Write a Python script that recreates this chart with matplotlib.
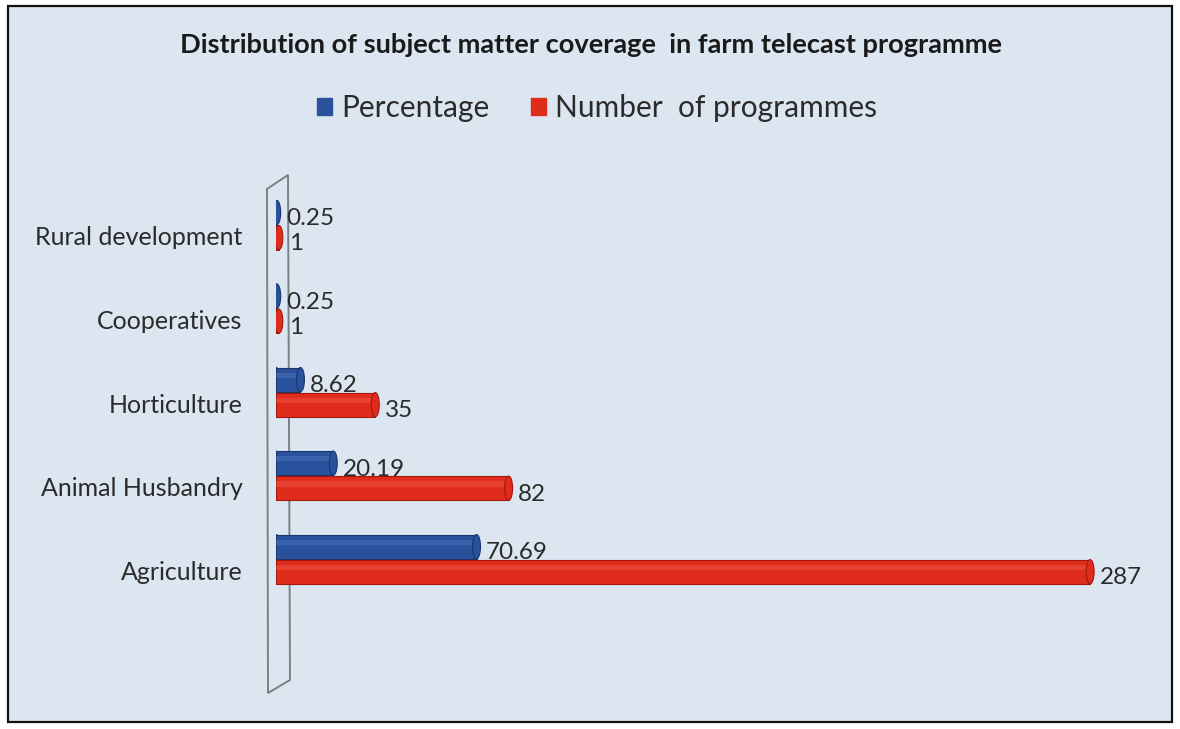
"""Distribution of subject matter coverage in farm telecast programme."""
import matplotlib.pyplot as plt
from matplotlib.patches import Rectangle, Ellipse, Polygon
import numpy as np

categories = ["Agriculture", "Animal Husbandry", "Horticulture",
              "Cooperatives", "Rural development"]
percentage = [70.69, 20.19, 8.62, 0.25, 0.25]
programmes = [287, 82, 35, 1, 1]
pct_labels = ["70.69", "20.19", "8.62", "0.25", "0.25"]
num_labels = ["287", "82", "35", "1", "1"]

BLUE = "#2a529c"
BLUE_DARK = "#1a3570"
BLUE_LIGHT = "#4f78bf"
RED = "#e02c1c"
RED_DARK = "#a3170f"
RED_LIGHT = "#f0584a"
BG = "#dce6f1"
TXT = "#2b2b2b"

plt.rcParams["font.family"] = ["Lato", "DejaVu Sans"]

W, H = 1180, 729
fig = plt.figure(figsize=(W / 100, H / 100), dpi=100)
fig.patch.set_facecolor("white")
fig.add_artist(Rectangle((8 / W, 1 - 722 / H), 1164 / W, 716 / H,
                         transform=fig.transFigure, facecolor=BG,
                         edgecolor="#111111", linewidth=1.6, zorder=-5))

# axes: x=0 at 276px, 300 units wide; y from -1.1 to 4.8
ax = fig.add_axes([276 / W, 0.092, 851 / W, 0.676])
ax.set_zorder(2)
ax.set_xlim(0, 300)
ax.set_ylim(-1.1, 4.8)
ax.patch.set_alpha(0)
for s in ax.spines.values():
    s.set_visible(False)
ax.set_xticks([])

y = np.arange(len(categories))
bh = 0.29
yb = y + 0.28
yr = y - 0.02
cap = 2.8  # cap width in data units


def cylinder(ys, vals, col, dark, light):
    ax.barh(ys, vals, height=bh, color=col, edgecolor=dark, linewidth=0.8, zorder=2)
    ax.barh(ys + bh * 0.18, vals, height=bh * 0.22, color=light, linewidth=0,
            alpha=0.45, zorder=3)
    for yy, v in zip(ys, vals):
        ax.add_patch(Ellipse((0, yy), cap, bh, facecolor=col, edgecolor=dark,
                             linewidth=0.8, zorder=1.9))
        ax.add_patch(Ellipse((v, yy), cap, bh, facecolor=col, edgecolor=dark,
                             linewidth=0.8, zorder=4))


cylinder(yb, percentage, BLUE, BLUE_DARK, BLUE_LIGHT)
cylinder(yr, programmes, RED, RED_DARK, RED_LIGHT)

for yy, v, t in zip(yb, percentage, pct_labels):
    ax.annotate(t, (v, yy), xytext=(7, -4.5), textcoords="offset points",
                ha="left", va="center", fontsize=17.5, color=TXT, zorder=5)
for yy, v, t in zip(yr, programmes, num_labels):
    ax.annotate(t, (v, yy), xytext=(7, -4.5), textcoords="offset points",
                ha="left", va="center", fontsize=17.5, color=TXT, zorder=5)

ax.set_yticks(y)
ax.set_yticklabels(categories, fontsize=18, color=TXT)
ax.tick_params(axis="y", length=0, pad=24)

# slanted back wall
wall = [(268, 693), (290, 680), (288, 175), (267, 189)]
fig.add_artist(Polygon([(px / W, 1 - py / H) for px, py in wall], closed=True,
                       transform=fig.transFigure, fill=False,
                       edgecolor="#7f7f7f", linewidth=1.4, zorder=1))

fig.text(591 / W, 1 - 45 / H,
         "Distribution of subject matter coverage  in farm telecast programme",
         ha="center", va="center", fontsize=19.6, fontweight="bold", color="#1a1a1a")

handles = [Rectangle((0, 0), 1, 1, color=BLUE), Rectangle((0, 0), 1, 1, color=RED)]
fig.legend(handles, ["Percentage", "Number  of programmes"],
           loc="center", bbox_to_anchor=(597 / W, 1 - 108 / H), ncol=2,
           frameon=False, fontsize=21.5, handlelength=0.5, handleheight=0.5,
           handletextpad=0.3, columnspacing=1.4, labelcolor=TXT)

fig.savefig("out.png", dpi=100)
